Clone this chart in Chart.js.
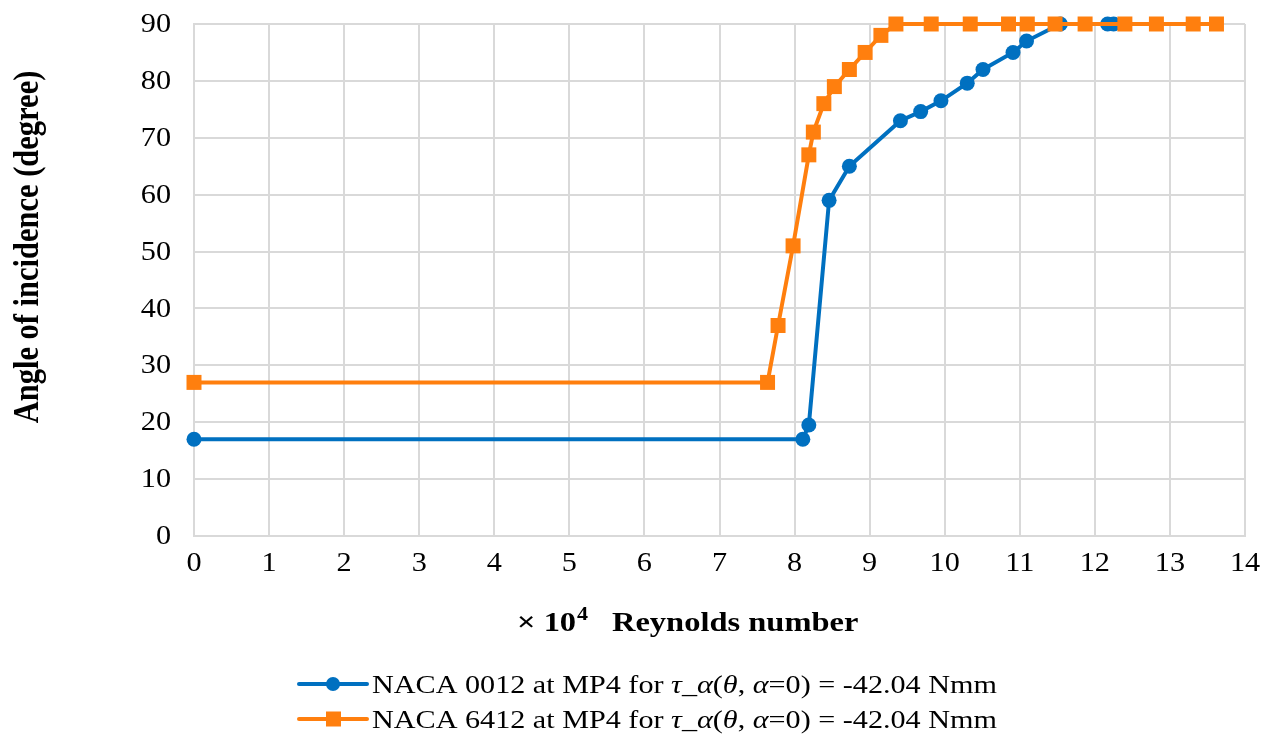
<!DOCTYPE html>
<html>
<head>
<meta charset="utf-8">
<script src="https://cdn.jsdelivr.net/npm/chart.js@4/dist/chart.umd.min.js"></script>
<style>
  html, body { margin: 0; padding: 0; background: #ffffff; }
  #wrap { width: 1278px; height: 740px; }
</style>
</head>
<body>
<div id="wrap"><canvas id="c" width="1278" height="740"></canvas></div>
<script>
// Reynolds number (× 10^4) and angle of incidence (degree)
const naca0012Re    = [0, 8.11, 8.19, 8.46, 8.73, 9.41, 9.68, 9.95, 10.30, 10.51, 10.91, 11.09, 11.54, 12.17, 12.25];
const naca0012Angle = [17, 17, 19.5, 59, 65, 73, 74.6, 76.5, 79.6, 82, 85, 87, 90, 90, 90];

const naca6412Re    = [0, 7.64, 7.78, 7.98, 8.19, 8.25, 8.39, 8.53, 8.73, 8.94, 9.15, 9.35, 9.82, 10.34, 10.85, 11.10, 11.47, 11.87, 12.40, 12.82, 13.31, 13.62];
const naca6412Angle = [27, 27, 37, 51, 67, 71, 76, 79, 82, 85, 88, 90, 90, 90, 90, 90, 90, 90, 90, 90, 90, 90];

const xTicks = [0, 1, 2, 3, 4, 5, 6, 7, 8, 9, 10, 11, 12, 13, 14];
const yTicks = [0, 10, 20, 30, 40, 50, 60, 70, 80, 90];

const seriesNames = ['NACA 0012', 'NACA 6412'];
const BLUE = '#0070C0';
const ORANGE = '#FF7F0E';
const SERIF = '"Liberation Serif", "Times New Roman", serif';

function pts(xs, ys) { return xs.map((x, i) => ({ x: x, y: ys[i] })); }

// text drawn slightly wide, like the serif lettering of the figure
function wideText(ctx, str, x, y, sx, align) {
  ctx.save();
  ctx.translate(x, y);
  ctx.scale(sx, 1);
  ctx.textAlign = align || 'left';
  ctx.fillText(str, 0, 0);
  ctx.restore();
  return ctx.measureText(str).width * sx;
}

// Tick labels, axis titles and the two-row legend painted on the canvas
const decorations = {
  id: 'decorations',
  afterDraw(chart) {
    const ctx = chart.ctx;
    const xs = chart.scales.x, ys = chart.scales.y;
    ctx.save();
    ctx.fillStyle = '#000';

    // tick labels
    ctx.font = '27px ' + SERIF;
    ctx.textBaseline = 'middle';
    xTicks.forEach(v => wideText(ctx, String(v), xs.getPixelForValue(v), 564, 1.12, 'center'));
    yTicks.forEach(v => wideText(ctx, String(v), 171, ys.getPixelForValue(v) + 1, 1.12, 'right'));

    // y-axis title
    ctx.save();
    ctx.translate(29, 247);
    ctx.scale(1.16, 1);
    ctx.rotate(-Math.PI / 2);
    ctx.font = 'bold 30.5px ' + SERIF;
    ctx.textAlign = 'center';
    ctx.textBaseline = 'middle';
    ctx.fillText('Angle of incidence (degree)', 0, 0);
    ctx.restore();

    // x-axis title: "× 10⁴   Reynolds number"
    ctx.textBaseline = 'alphabetic';
    const by = 631;
    ctx.font = 'bold 28px ' + SERIF;
    let x = 517;
    x += wideText(ctx, '× 10', x, by, 1.16, 'left') + 1;
    ctx.font = 'bold 19px ' + SERIF;
    wideText(ctx, '4', x, by - 11, 1.16, 'left');
    ctx.font = 'bold 28px ' + SERIF;
    wideText(ctx, 'Reynolds number', 612, by, 1.16, 'left');

    // legend
    const rows = [
      { name: seriesNames[0], color: BLUE, style: 'circle', y: 684 },
      { name: seriesNames[1], color: ORANGE, style: 'rect', y: 719 }
    ];
    rows.forEach(r => {
      ctx.strokeStyle = r.color;
      ctx.lineWidth = 4;
      ctx.lineCap = 'round';
      ctx.beginPath();
      ctx.moveTo(299, r.y);
      ctx.lineTo(367, r.y);
      ctx.stroke();
      ctx.fillStyle = r.color;
      if (r.style === 'circle') {
        ctx.beginPath();
        ctx.arc(333, r.y, 7, 0, Math.PI * 2);
        ctx.fill();
      } else {
        ctx.fillRect(326, r.y - 7.5, 15, 15);
      }
      ctx.fillStyle = '#000';
      const segs = [
        [r.name + ' at MP4 for ', false],
        ['τ', true], ['_', false], ['α', true], ['(', false], ['θ', true],
        [', ', false], ['α', true], ['=0) = -42.04 Nmm', false]
      ];
      let tx = 372;
      const ty = r.y + 9;
      segs.forEach(([s, it]) => {
        ctx.font = (it ? 'italic ' : '') + '26px ' + SERIF;
        tx += wideText(ctx, s, tx, ty, 1.16, 'left');
      });
    });
    ctx.restore();
  }
};

new Chart(document.getElementById('c'), {
  type: 'scatter',
  data: {
    datasets: [
      {
        label: seriesNames[0],
        data: pts(naca0012Re, naca0012Angle),
        showLine: true,
        clip: false,
        borderColor: BLUE,
        backgroundColor: BLUE,
        borderWidth: 4,
        pointStyle: 'circle',
        pointRadius: 7.5,
        pointBorderWidth: 0,
        order: 1
      },
      {
        label: seriesNames[1],
        data: pts(naca6412Re, naca6412Angle),
        showLine: true,
        clip: false,
        borderColor: ORANGE,
        backgroundColor: ORANGE,
        borderWidth: 4,
        pointStyle: 'rect',
        pointRadius: 10.6,
        pointBorderWidth: 0,
        order: 0
      }
    ]
  },
  options: {
    responsive: false,
    animation: false,
    layout: { padding: { top: 24, right: 33, left: 0, bottom: 0 } },
    plugins: {
      legend: { display: false },
      tooltip: { enabled: false }
    },
    scales: {
      x: {
        type: 'linear',
        min: 0, max: 14,
        afterBuildTicks(scale) { scale.ticks = xTicks.map(v => ({ value: v })); },
        afterFit(scale) { scale.height = 204; },
        grid: { color: '#d9d9d9', lineWidth: 2, drawTicks: false },
        border: { color: '#d9d9d9', width: 2 },
        ticks: { display: false }
      },
      y: {
        type: 'linear',
        min: 0, max: 90,
        afterBuildTicks(scale) { scale.ticks = yTicks.map(v => ({ value: v })); },
        afterFit(scale) { scale.width = 194; },
        grid: { color: '#d9d9d9', lineWidth: 2, drawTicks: false },
        border: { color: '#d9d9d9', width: 2 },
        ticks: { display: false }
      }
    }
  },
  plugins: [decorations]
});
</script>
</body>
</html>
